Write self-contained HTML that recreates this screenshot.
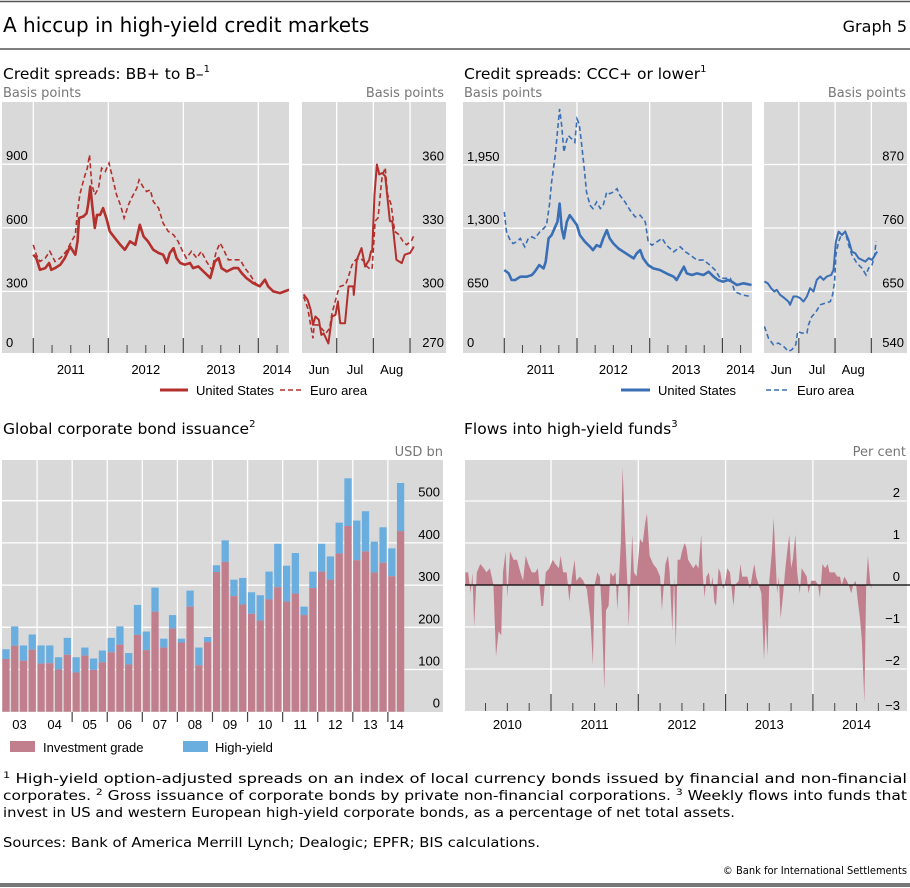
<!DOCTYPE html>
<html><head><meta charset="utf-8"><style>
body{margin:0;background:#fff;}
svg{display:block;}
.t{font-family:"DejaVu Sans","Liberation Sans",sans-serif;}
.a{font-family:"Liberation Sans",sans-serif;font-size:13px;fill:#000;}
.g{font-family:"DejaVu Sans","Liberation Sans",sans-serif;font-size:13px;fill:#777;}
.f{font-family:"DejaVu Sans Condensed","Liberation Sans Narrow","Liberation Sans",sans-serif;font-size:13px;fill:#000;}
</style></head><body>
<svg id="chart" width="910" height="888" viewBox="0 0 910 888" xmlns="http://www.w3.org/2000/svg">
<line x1="0" y1="1.5" x2="910" y2="1.5" stroke="#555" stroke-width="1.5"/>
<text class="t" x="3" y="32" font-size="20">A hiccup in high-yield credit markets</text>
<text class="t" x="907" y="32" font-size="16" text-anchor="end">Graph 5</text>
<line x1="0" y1="49" x2="910" y2="49" stroke="#555" stroke-width="1.5"/>

<text class="t" x="3" y="79" font-size="15.5">Credit spreads: BB+ to B–<tspan dy="-7" font-size="10">1</tspan></text>
<text class="g" x="3" y="97">Basis points</text>
<text class="g" x="444" y="97" text-anchor="end">Basis points</text>
<text class="t" x="464" y="79" font-size="15.5">Credit spreads: CCC+ or lower<tspan dy="-7" font-size="10">1</tspan></text>
<text class="g" x="464" y="97">Basis points</text>
<text class="g" x="906" y="97" text-anchor="end">Basis points</text>

<text class="t" x="3" y="434" font-size="15.5">Global corporate bond issuance<tspan dy="-7" font-size="10">2</tspan></text>
<text class="g" x="443" y="456" text-anchor="end">USD bn</text>
<text class="t" x="464" y="434" font-size="15.5">Flows into high-yield funds<tspan dy="-7" font-size="10">3</tspan></text>
<text class="g" x="906" y="456" text-anchor="end">Per cent</text>

<!-- legends -->
<g>
<line x1="160" y1="390" x2="188" y2="390" stroke="#b3302c" stroke-width="3"/>
<text class="a" x="196" y="395">United States</text>
<line x1="280" y1="390" x2="302" y2="390" stroke="#b3302c" stroke-width="1.5" stroke-dasharray="5,3"/>
<text class="a" x="310" y="395">Euro area</text>
</g>
<g>
<line x1="621" y1="390" x2="650" y2="390" stroke="#3a6fb5" stroke-width="3"/>
<text class="a" x="658" y="395">United States</text>
<line x1="766" y1="390" x2="789" y2="390" stroke="#3a6fb5" stroke-width="1.5" stroke-dasharray="5,3"/>
<text class="a" x="797" y="395">Euro area</text>
</g>
<g>
<rect x="10" y="741" width="25" height="11" fill="#c17f8e"/>
<text class="a" x="43" y="752">Investment grade</text>
<rect x="183" y="741" width="25" height="11" fill="#6aaee0"/>
<text class="a" x="215" y="752">High-yield</text>
</g>

<!-- footnotes -->
<text class="f" x="3" y="783" textLength="904" lengthAdjust="spacingAndGlyphs"><tspan font-size="9" dy="-5">1</tspan><tspan dy="5"> High-yield option-adjusted spreads on an index of local currency bonds issued by financial and non-financial</tspan></text>
<text class="f" x="3" y="800" textLength="904" lengthAdjust="spacingAndGlyphs">corporates.  <tspan font-size="9" dy="-5">2</tspan><tspan dy="5"> Gross issuance of corporate bonds by private non-financial corporations.  </tspan><tspan font-size="9" dy="-5">3</tspan><tspan dy="5"> Weekly flows into funds that</tspan></text>
<text class="f" x="3" y="817" textLength="732" lengthAdjust="spacingAndGlyphs">invest in US and western European high-yield corporate bonds, as a percentage of net total assets.</text>
<text class="f" x="3" y="847" textLength="537" lengthAdjust="spacingAndGlyphs">Sources: Bank of America Merrill Lynch; Dealogic; EPFR; BIS calculations.</text>
<text class="f" x="907" y="874" text-anchor="end" style="font-size:11px">© Bank for International Settlements</text>
<rect x="0" y="883" width="910" height="4" fill="#777"/>
</svg>
<script>
// ---------- Panel 1: BB+ to B- (long history) ----------
const bbUsDates=[2011.00,2011.04,2011.09,2011.16,2011.21,2011.24,2011.29,2011.36,2011.42,2011.49,2011.56,2011.59,2011.61,2011.67,2011.71,2011.73,2011.76,2011.79,2011.82,2011.85,2011.89,2011.93,2011.98,2012.02,2012.09,2012.16,2012.22,2012.29,2012.36,2012.40,2012.42,2012.47,2012.53,2012.60,2012.67,2012.73,2012.78,2012.82,2012.87,2012.91,2012.96,2013.02,2013.09,2013.13,2013.20,2013.27,2013.36,2013.42,2013.47,2013.51,2013.58,2013.67,2013.73,2013.78,2013.84,2013.93,2014.02,2014.09,2014.13,2014.20,2014.29,2014.41];
const bbUsValues=[473,457,402,410,434,402,410,426,457,512,473,536,646,654,669,709,795,693,599,661,661,693,638,583,551,520,496,536,520,583,614,559,536,496,481,473,434,481,504,457,434,426,434,410,418,394,363,441,457,410,394,410,410,386,363,339,324,355,324,300,292,308];
const bbEuDates=[2011.00,2011.04,2011.09,2011.16,2011.22,2011.29,2011.36,2011.44,2011.51,2011.56,2011.59,2011.62,2011.66,2011.69,2011.72,2011.75,2011.78,2011.82,2011.87,2011.91,2011.96,2012.01,2012.07,2012.11,2012.16,2012.21,2012.27,2012.31,2012.38,2012.41,2012.46,2012.51,2012.56,2012.60,2012.67,2012.73,2012.80,2012.87,2012.93,2012.99,2013.04,2013.11,2013.18,2013.24,2013.31,2013.38,2013.44,2013.49,2013.53,2013.60,2013.67,2013.76,2013.82,2013.89,2013.96,2014.02];
const bbEuValues=[520,473,441,457,489,441,457,489,536,567,677,756,811,850,881,944,803,756,787,881,866,905,818,756,709,646,709,740,787,826,795,771,779,724,693,622,583,567,536,489,457,489,457,489,441,402,489,528,504,449,449,449,410,379,339,324];
// ---------- Panel 2: BB+ to B- (Jun-Aug 2014, days since 1 Jun) ----------
const bbUsRecentDays=[2,5.5,8,10,12,15,17,19,23,26,29,31,33,37,40,44,44.5,47,51,54,57.5,59,60,62,64,66,68.5,71,75,77,80.5,85,87.5,92,94.5,95];
const bbUsRecentValues=[298.7,296,291.3,284.2,288.2,286.6,279.5,280.2,275.5,288.2,289,295.3,285,285,302.4,302.4,298.4,315,320.5,311.8,315,319,319,345.8,360,355.3,356,354.5,333.2,333.2,315,313.4,317.4,318.2,320.5,321.3];
const bbEuRecentDays=[2,5.5,10,11,14,17,21,24,26,31,33,37.5,40,43,46,50,53,55.5,59,60,62.5,65,67.5,68.5,71,73,76,79,82.5,86,89,93,95];
const bbEuRecentValues=[297.6,292.1,277.9,284.2,284.2,282.6,280.3,282.6,289.7,300,302.4,303.2,307.1,312.6,315,315.8,314.2,311.8,310.3,311.1,333.2,334.8,349.8,354.5,358.5,345.8,341.1,328.4,326.9,323.7,322.1,323.7,326.1];
// ---------- Panel 3: CCC+ or lower (long history) ----------
const cccUsDates=[2011.00,2011.06,2011.10,2011.15,2011.22,2011.26,2011.31,2011.38,2011.42,2011.48,2011.54,2011.57,2011.61,2011.65,2011.70,2011.73,2011.76,2011.79,2011.82,2011.86,2011.90,2011.95,2012.00,2012.04,2012.11,2012.18,2012.22,2012.27,2012.32,2012.36,2012.41,2012.45,2012.50,2012.57,2012.64,2012.71,2012.78,2012.82,2012.87,2012.91,2012.98,2013.05,2013.14,2013.23,2013.33,2013.37,2013.42,2013.47,2013.51,2013.58,2013.65,2013.74,2013.81,2013.88,2013.94,2014.01,2014.08,2014.13,2014.20,2014.29,2014.40];
const cccUsValues=[871,837,769,769,803,803,803,820,854,922,888,956,1195,1229,1314,1365,1552,1297,1195,1365,1433,1382,1331,1229,1161,1109,1075,1126,1109,1195,1280,1195,1143,1092,1058,1024,990,1041,1075,990,922,888,871,837,803,769,837,905,837,820,837,820,854,803,769,752,769,752,718,735,718];
const cccEuDates=[2011.00,2011.03,2011.08,2011.12,2011.17,2011.22,2011.28,2011.33,2011.38,2011.42,2011.49,2011.54,2011.58,2011.62,2011.65,2011.70,2011.73,2011.76,2011.79,2011.82,2011.85,2011.88,2011.93,2011.97,2012.00,2012.03,2012.06,2012.10,2012.13,2012.18,2012.22,2012.27,2012.32,2012.36,2012.41,2012.45,2012.50,2012.55,2012.59,2012.66,2012.73,2012.80,2012.87,2012.94,2012.98,2013.03,2013.10,2013.17,2013.23,2013.33,2013.42,2013.49,2013.56,2013.65,2013.74,2013.83,2013.90,2013.97,2014.04,2014.11,2014.17,2014.27,2014.40];
const cccEuValues=[1467,1263,1178,1143,1161,1195,1109,1195,1212,1195,1263,1297,1331,1535,1773,2045,2283,2522,2352,2079,2181,2249,2215,2181,2420,2369,2181,1909,1671,1535,1501,1569,1501,1535,1671,1654,1671,1705,1637,1569,1484,1416,1433,1365,1161,1126,1161,1195,1126,1058,1109,1058,1024,973,973,922,871,786,786,786,650,616,599];
// ---------- Panel 4: CCC+ or lower (Jun-Aug 2014) ----------
const cccUsRecentDays=[0.6,3.4,6.3,9.1,11.1,14,17.7,21.1,22.6,25.4,28.3,31.1,34,36.9,39.7,42.6,45.4,48.3,51.1,54,57.7,59.7,61.7,64,66.9,69.7,72.6,75.4,78.3,81.1,84,86.9,89.7,92.6,96.9];
const cccUsRecentValues=[667.3,664.4,655.8,650,652.9,644.2,638.5,632.7,627,641.4,641.4,638.5,632.7,641.4,655.8,650,670.2,675.9,670.2,675.9,678.8,687.4,736.4,753.7,747.9,753.7,739.3,719.1,716.2,707.6,704.7,701.8,707.6,704.7,719.1];
const cccEuRecentDays=[0.6,4,8.3,12.6,16.9,21.1,24,27.4,29.1,32.6,36.9,38.3,41.1,44,48.3,52.6,56.9,58.9,60.6,61.7,64,66.3,69.7,72.6,75.4,79.7,84,87.4,89.7,92.6,94.9,96];
const cccEuRecentValues=[589.5,569.4,557.8,560.7,555,546.3,549.2,557.8,580.9,578,578,592.4,606.8,612.6,627,629.8,632.7,644.2,667.3,713.4,736.4,747.9,753.7,730.6,713.4,699,690.3,678.8,690.3,696.1,713.4,736.4];
// ---------- Panel 5: issuance (quarterly 2003Q1-2014Q2) ----------
const issuanceQuarters=46;
const igValues=[125,156,121,147,114,115,100,135,93,133,99,117,141,159,112,182,146,237,152,197,164,249,110,165,331,355,274,254,232,216,266,295,261,280,229,293,332,313,375,440,359,380,330,353,321,428];
const totalValues=[148,202,157,183,157,157,129,175,129,152,126,145,175,202,139,253,190,294,173,229,173,287,152,177,347,406,313,317,283,276,332,398,346,376,249,332,398,368,448,553,453,475,403,437,387,542];
const issuanceYearLabels=["03","04","05","06","07","08","09","10","11","12","13","14"];
const issuanceTicks=[0,100,200,300,400,500];
// ---------- Panel 6: flows ----------
const flowDates=[2010.02,2010.05,2010.08,2010.10,2010.12,2010.15,2010.19,2010.23,2010.26,2010.30,2010.34,2010.37,2010.40,2010.43,2010.45,2010.48,2010.50,2010.53,2010.57,2010.61,2010.65,2010.68,2010.71,2010.74,2010.78,2010.82,2010.85,2010.89,2010.91,2010.94,2010.98,2011.02,2011.05,2011.09,2011.11,2011.14,2011.18,2011.21,2011.24,2011.27,2011.29,2011.33,2011.37,2011.41,2011.45,2011.48,2011.50,2011.53,2011.56,2011.58,2011.61,2011.63,2011.66,2011.68,2011.71,2011.74,2011.76,2011.78,2011.80,2011.82,2011.85,2011.88,2011.89,2011.91,2011.93,2011.95,2011.98,2012.02,2012.05,2012.08,2012.10,2012.13,2012.17,2012.21,2012.25,2012.27,2012.31,2012.34,2012.36,2012.39,2012.41,2012.43,2012.45,2012.48,2012.50,2012.53,2012.55,2012.57,2012.60,2012.63,2012.66,2012.69,2012.72,2012.74,2012.76,2012.78,2012.81,2012.83,2012.85,2012.87,2012.89,2012.92,2012.94,2012.97,2012.99,2013.02,2013.05,2013.07,2013.09,2013.11,2013.15,2013.17,2013.19,2013.22,2013.25,2013.28,2013.31,2013.33,2013.35,2013.38,2013.41,2013.44,2013.46,2013.48,2013.50,2013.53,2013.55,2013.58,2013.59,2013.61,2013.63,2013.66,2013.68,2013.70,2013.73,2013.75,2013.77,2013.80,2013.82,2013.85,2013.87,2013.90,2013.93,2013.95,2013.98,2014.00,2014.03,2014.06,2014.08,2014.11,2014.14,2014.17,2014.19,2014.22,2014.25,2014.28,2014.31,2014.33,2014.36,2014.39,2014.41,2014.44,2014.46,2014.49,2014.51,2014.54,2014.56,2014.59,2014.61,2014.63,2014.66,2014.67];
const flowValues=[0.3,0.3,-0.2,0.3,-1.0,0.3,0.5,0.4,0.3,0.4,0.0,-1.7,-1.1,-1.2,0.3,0.8,-0.3,0.8,0.6,0.6,0.3,0.1,0.7,0.5,0.3,0.3,0.4,-0.5,-0.5,0.3,0.4,0.6,0.5,0.4,0.7,0.3,0.3,-0.4,0.2,0.6,0.1,0.2,0.1,-0.1,-0.8,-1.9,0.0,0.3,0.2,-0.5,-2.5,-0.6,-0.5,0.3,0.2,0.3,-0.6,0.2,1.0,2.8,1.2,-0.2,-1.0,0.1,1.2,0.3,0.2,1.1,1.0,1.5,1.7,0.7,0.5,0.4,0.2,-0.6,0.5,0.7,0.3,-1.1,0.2,-1.5,0.6,0.6,0.8,1.0,0.9,0.6,0.5,0.4,0.5,0.4,1.2,0.2,-0.3,0.2,0.3,-0.1,0.2,-0.4,-0.5,0.4,0.3,-0.1,0.0,0.4,0.3,-0.1,-0.5,0.0,0.1,0.5,0.2,0.2,0.2,-0.1,0.3,0.5,0.2,0.0,-0.2,-1.8,-0.8,-1.7,0.1,0.8,1.6,0.3,-0.2,0.2,-0.8,-0.2,0.3,0.7,1.2,0.4,0.6,1.2,0.3,-0.2,0.4,0.3,0.2,-0.2,0.1,0.1,0.1,0.0,-0.3,0.5,0.4,0.5,0.3,0.3,0.3,0.2,0.2,0.0,0.2,0.1,0.0,-0.2,0.0,0.1,-0.3,-0.8,-1.3,-2.8,0.0,0.7,0.0,-0.1];
const flowTicks=[-3,-2,-1,0,1,2];
const flowYearLabels=["2010","2011","2012","2013","2014"];

const NS="http://www.w3.org/2000/svg";
const svg=document.getElementById('chart');
function mk(tag,attrs,parent){const e=document.createElementNS(NS,tag);for(const k in attrs)e.setAttribute(k,attrs[k]);(parent||svg).appendChild(e);return e;}
function txt(s,x,y,anchor,parent){const t=mk('text',{x:x,y:y,'text-anchor':anchor||'start',class:'a'},parent);t.textContent=s;return t;}
function clip(id,x0,y0,x1,y1){const d=mk('clipPath',{id:id});mk('rect',{x:x0,y:y0,width:x1-x0,height:y1-y0},d);}
function linePath(xs,ys,fx,fy){return xs.map((v,i)=>(i?'L':'M')+fx(v).toFixed(1)+','+fy(ys[i]).toFixed(1)).join('');}

function spreadPanel(o){
  const g=mk('g',{});
  
  
  const bg=mk('rect',{x:o.x0,y:o.y0,width:o.x1-o.x0,height:o.y1-o.y0,fill:'#d9d9d9'},g);
  
  
  o.yTicks.forEach((v,i)=>{
    const y=o.fy(v);
    if(i>0){const l=mk('line',{x1:o.x0,x2:o.x1,y1:y,y2:y,stroke:'#fff','stroke-width':1.3},g);
      
      }
    const t=txt(o.yLabels[i],o.labelX,Math.min(y-4,o.y1-6),o.anchor,g);
    
    
  });
  o.majors.forEach(v=>{
    const x=o.fx(v);
    const l=mk('line',{x1:x,x2:x,y1:o.y0,y2:o.y1,stroke:'#fff','stroke-width':1.3},g);
    
    
    const tk=mk('line',{x1:x,x2:x,y1:o.y1-15,y2:o.y1,stroke:'#444','stroke-width':1.2},g);
    
    
  });
  (o.minors||[]).forEach(v=>{
    const x=o.fx(v);
    const tk=mk('line',{x1:x,x2:x,y1:o.y1-8,y2:o.y1,stroke:'#444','stroke-width':1},g);
    
    
  });
  o.xLabels.forEach((s,i)=>{
    const t=txt(s,o.fx(o.xLabelPos[i]),374,'middle',g);
    
    
  });
  clip(o.name+'-clip',o.x0,o.y0,o.x1,o.y1);
  const cg=mk('g',{'clip-path':'url(#'+o.name+'-clip)'},g);
  const eu=mk('path',{d:linePath(o.euX,o.euY,o.fx,o.fy),fill:'none',stroke:o.color,'stroke-width':1.6,'stroke-dasharray':'5,3'},cg);
  
  
  const us=mk('path',{d:linePath(o.usX,o.usY,o.fx,o.fy),fill:'none',stroke:o.color,'stroke-width':o.usW,'stroke-linejoin':'round'},cg);
  
  
}
const quarterMinors=(y0,y1)=>{const r=[];for(let y=y0;y<=y1;y+=0.25){if(Math.abs(y-Math.round(y))>0.01)r.push(y);}return r;};
const dayTicks=[30,61,92];

spreadPanel({name:'bb-long-panel',x0:2,x1:289,y0:102,y1:353,color:'#b3302c',usW:2.6,
  fx:v=>33.3+(v-2011)*75,fy:v=>355-v*63.6/300,yTicks:[0,300,600,900],yLabels:['0','300','600','900'],labelX:6,anchor:'start',
  majors:[2011,2012,2013,2014],minors:quarterMinors(2011,2014.25),xLabels:['2011','2012','2013','2014'],xLabelPos:[2011.5,2012.5,2013.5,2014.25],
  usX:bbUsDates,usY:bbUsValues,euX:bbEuDates,euY:bbEuValues});
spreadPanel({name:'bb-recent-panel',x0:302,x1:446,y0:102,y1:353,color:'#b3302c',usW:2,
  fx:v=>301.2+v*1.183,fy:v=>355-(v-270)*63.5/30,yTicks:[270,300,330,360],yLabels:['270','300','330','360'],labelX:444,anchor:'end',
  majors:dayTicks,xLabels:['Jun','Jul','Aug'],xLabelPos:[15,45.5,76.5],
  usX:bbUsRecentDays,usY:bbUsRecentValues,euX:bbEuRecentDays,euY:bbEuRecentValues});
spreadPanel({name:'ccc-long-panel',x0:463,x1:752,y0:102,y1:353,color:'#3a6fb5',usW:2.6,
  fx:v=>504.3+(v-2011)*72.7,fy:v=>355-v*63.4/650,yTicks:[0,650,1300,1950],yLabels:['0','650','1,300','1,950'],labelX:467,anchor:'start',
  majors:[2011,2012,2013,2014],minors:quarterMinors(2011,2014.25),xLabels:['2011','2012','2013','2014'],xLabelPos:[2011.5,2012.5,2013.5,2014.25],
  usX:cccUsDates,usY:cccUsValues,euX:cccEuDates,euY:cccEuValues});
spreadPanel({name:'ccc-recent-panel',x0:764,x1:907,y0:102,y1:353,color:'#3a6fb5',usW:2,
  fx:v=>763.7+v*1.17,fy:v=>355-(v-540)*63.5/110,yTicks:[540,650,760,870],yLabels:['540','650','760','870'],labelX:904,anchor:'end',
  majors:dayTicks,xLabels:['Jun','Jul','Aug'],xLabelPos:[15,45.5,76.5],
  usX:cccUsRecentDays,usY:cccUsRecentValues,euX:cccEuRecentDays,euY:cccEuRecentValues});

(function(){
  const x0=2,x1=443,y0=460,y1=712;
  const fy=v=>711.7-v*0.422;
  const pitch=8.77, fx=i=>x0+i*pitch;
  const g=mk('g',{});
  
  
  const bg=mk('rect',{x:x0,y:y0,width:x1-x0,height:y1-y0,fill:'#d9d9d9'},g);
  
  
  issuanceTicks.forEach(v=>{
    const y=fy(v);
    if(v>0){const l=mk('line',{x1:x0,x2:x1,y1:y,y2:y,stroke:'#fff','stroke-width':1.3},g);
      
      }
    const t=txt(String(v),440,y-4,'end',g);
    
    
  });
  for(let k=1;k<issuanceYearLabels.length;k++){
    const x=fx(k*4);
    const l=mk('line',{x1:x,x2:x,y1:y0,y2:y1,stroke:'#fff','stroke-width':1.3},g);
    
    
    if(k>=2){const tk=mk('line',{x1:x,x2:x,y1:y1,y2:y1+10,stroke:'#444','stroke-width':1.2},g);
      
      }
  }
  igValues.forEach((v,i)=>{
    const x=fx(i)+0.3, w=pitch-1.5;
    const hy=mk('rect',{x:x,y:fy(totalValues[i]),width:w,height:fy(v)-fy(totalValues[i]),fill:'#6aaee0'},g);
    
    
    const ig=mk('rect',{x:x,y:fy(v),width:w,height:fy(0)-fy(v),fill:'#c17f8e'},g);
    
    
  });
  issuanceYearLabels.forEach((s,k)=>{
    const c=k<issuanceYearLabels.length-1?fx(k*4+2):fx(k*4+1);
    const t=txt(s,c,729,'middle',g);
    
    
  });
})();

(function(){
  const x0=465,x1=907,y0=460,y1=711;
  const fx=v=>463.7+(v-2010)*87.3, fy=v=>585-v*42;
  const g=mk('g',{});
  
  
  const bg=mk('rect',{x:x0,y:y0,width:x1-x0,height:y1-y0,fill:'#d9d9d9'},g);
  
  
  flowTicks.forEach(v=>{
    const y=fy(v);
    if(v!==0&&v>-3){const l=mk('line',{x1:x0,x2:x1,y1:y,y2:y,stroke:'#fff','stroke-width':1.3},g);
      
      }
    const t=txt(String(v).replace('-','−'),900,v===-3?y-1:y-4,'end',g);
    
    
  });
  for(let yr=2011;yr<=2014;yr++){
    const x=fx(yr);
    const l=mk('line',{x1:x,x2:x,y1:y0,y2:y1,stroke:'#fff','stroke-width':1.3},g);
    
    
  }
  for(let q=2010.25;q<=2014.76;q+=0.25){
    const x=fx(q), major=Math.abs(q-Math.round(q))<0.01;
    const tk=mk('line',{x1:x,x2:x,y1:major?y1-17:y1-8,y2:y1,stroke:'#444','stroke-width':major?1.2:1},g);
    
    
  }
  const d='M'+fx(flowDates[0]).toFixed(1)+','+fy(0)+linePath(flowDates,flowValues,fx,fy).replace(/^M/,'L')+'L'+fx(flowDates[flowDates.length-1]).toFixed(1)+','+fy(0)+'Z';
  const area=mk('path',{d:d,fill:'#c17f8e'},g);
  
  
  const z=mk('line',{x1:x0,x2:x1+3,y1:fy(0),y2:fy(0),stroke:'#000','stroke-width':1.3},g);
  
  
  flowYearLabels.forEach((s,k)=>{
    const t=txt(s,fx(2010.5+k),729,'middle',g);
    
    
  });
})();
</script>
</body></html>
